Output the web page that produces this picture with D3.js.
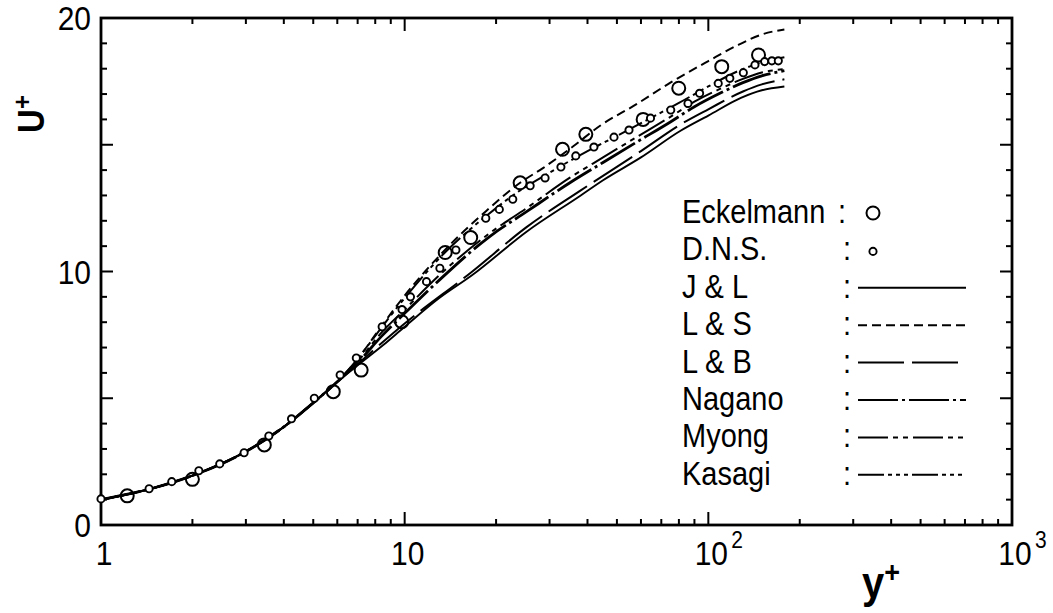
<!DOCTYPE html>
<html>
<head>
<meta charset="utf-8">
<script src="https://cdn.jsdelivr.net/npm/d3@7"></script>
<style>
  html, body { margin: 0; padding: 0; background: #fff; }
  svg { display: block; }
  text { font-family: "Liberation Sans", Arial, Helvetica, sans-serif; fill: #000; }
</style>
</head>
<body>
<svg id="chart" width="1053" height="613"></svg>
<script>
// ---- data: mean velocity U+ against wall distance y+ ----
const eckelmann = [
  [1.22, 1.15], [2.0, 1.8], [3.45, 3.16], [5.82, 5.26], [7.19, 6.11], [9.78, 8.02],
  [13.6, 10.75], [16.5, 11.34], [24.0, 13.5], [33.1, 14.82], [39.5, 15.41], [61, 16.0],
  [79.9, 17.23], [110.7, 18.08], [146.3, 18.54]
];
const dns = [
  [1.0, 1.03], [1.44, 1.43], [1.71, 1.71], [2.10, 2.14], [2.46, 2.41], [2.96, 2.85],
  [3.57, 3.51], [4.24, 4.19], [5.04, 5.0], [6.13, 5.92], [6.93, 6.59], [8.43, 7.82],
  [9.8, 8.5], [10.45, 9.0], [11.8, 9.6], [13.06, 10.13], [14.75, 10.85], [18.5, 12.1],
  [20.5, 12.45], [22.7, 12.85], [25.9, 13.38], [29.0, 13.69], [32.7, 14.12], [36.6, 14.56],
  [42, 14.91], [48.9, 15.3], [54.8, 15.58], [64.5, 16.05], [75.2, 16.37], [85.7, 16.63],
  [93.6, 17.03], [107.8, 17.42], [117.7, 17.62], [130.4, 17.84], [142.4, 18.15],
  [153.2, 18.28], [161.9, 18.31], [170, 18.31]
];

const jlModel = [
  [1, 1.0], [1.5, 1.47], [2, 1.95], [3, 2.9], [4, 3.87], [5, 4.82], [6, 5.65],
  [7, 6.3], [8.5, 7.1], [10, 7.82], [13, 8.95], [16.7, 9.86], [25.2, 11.57], [38, 13.0],
  [45, 13.6], [60, 14.5], [81, 15.55], [100, 16.15], [128, 16.85], [150, 17.15], [178, 17.3]
];
const lsModel = [
  [1, 1.0], [1.5, 1.47], [2, 1.95], [3, 2.9], [4, 3.87], [5, 4.82], [6, 5.65],
  [7, 6.55], [8.4, 7.85], [10, 9.05], [13.7, 10.9], [18.6, 12.4], [24, 13.5], [28.7, 14.1],
  [36, 14.95], [44, 15.75], [58, 16.6], [75, 17.45], [100, 18.3], [126, 18.95], [150, 19.35],
  [178, 19.55]
];
const lbModel = [
  [1, 1.0], [1.5, 1.47], [2, 1.95], [3, 2.9], [4, 3.87], [5, 4.82], [6, 5.65],
  [7, 6.35], [10, 7.95], [16.7, 10.0], [25.2, 11.75], [38, 13.2], [60, 14.75], [81, 15.8],
  [100, 16.4], [130, 17.1], [150, 17.38], [178, 17.58]
];
const naganoModel = [
  [1, 1.0], [1.5, 1.47], [2, 1.95], [3, 2.9], [4, 3.87], [5, 4.82], [6, 5.65],
  [7, 6.4], [8.4, 7.45], [10, 8.35], [13, 9.66], [19, 11.37], [25.2, 12.36], [35, 13.5],
  [45, 14.3], [58, 15.1], [75, 15.9], [90, 16.5], [110, 17.05], [130, 17.45], [150, 17.72],
  [178, 17.92]
];
const myongModel = [
  [1, 1.0], [1.5, 1.47], [2, 1.95], [3, 2.9], [4, 3.87], [5, 4.82], [6, 5.65],
  [7, 6.45], [8.4, 7.6], [10, 8.5], [13, 9.85], [19, 11.5], [25.2, 12.5], [35, 13.7],
  [45, 14.5], [58, 15.3], [75, 16.1], [90, 16.7], [110, 17.22], [130, 17.6], [150, 17.85],
  [178, 17.98]
];
const kasagiModel = [
  [1, 1.0], [1.5, 1.47], [2, 1.95], [3, 2.9], [4, 3.87], [5, 4.82], [6, 5.65],
  [7, 6.55], [8.4, 7.8], [10, 8.95], [13.7, 10.8], [18.6, 12.2], [24, 13.2], [30, 13.9],
  [40, 14.75], [50, 15.35], [60, 15.85], [80, 16.65], [100, 17.3], [125, 17.9], [150, 18.25],
  [178, 18.45]
];

const legendNames = ["Eckelmann", "D.N.S.", "J & L", "L & S", "L & B", "Nagano", "Myong", "Kasagi"];
const yTickLabelValues = [0, 10, 20];
const xTickLabelValues = [1, 10, 100, 1000];
const xTickLabels = ["1", "10", "10^2", "10^3"];

// ---- layout ----
const svg = d3.select("#chart");
const x = d3.scaleLog().domain([1, 1000]).range([101, 1012]);
const y = d3.scaleLinear().domain([0, 20]).range([525, 18]);

function txt(g, px, py, str, size, anchor, bold, sy) {
  return g.append("text")
    .attr("transform", `translate(${px},${py}) scale(1,${sy || 1.12})`)
    .attr("font-size", size)
    .attr("text-anchor", anchor || "start")
    .attr("font-weight", bold ? "bold" : "normal")
    .text(str);
}

// frame
const frame = svg.append("g");
frame.append("rect")
  .attr("x", x(1)).attr("y", y(20))
  .attr("width", x(1000) - x(1)).attr("height", y(0) - y(20))
  .attr("fill", "none").attr("stroke", "#000").attr("stroke-width", 2.8);

// x ticks (bottom and top, pointing inward)
const xTicks = x.ticks().filter(v => v > 1 && v < 1000);
const isDecade = v => Math.abs(Math.log10(v) - Math.round(Math.log10(v))) < 1e-9;
frame.selectAll("line.xb").data(xTicks).join("line")
  .attr("x1", d => x(d)).attr("x2", d => x(d))
  .attr("y1", y(0)).attr("y2", d => y(0) - (isDecade(d) ? 13 : 6))
  .attr("stroke", "#000").attr("stroke-width", 2);
frame.selectAll("line.xt").data(xTicks).join("line")
  .attr("x1", d => x(d)).attr("x2", d => x(d))
  .attr("y1", y(20)).attr("y2", d => y(20) + (isDecade(d) ? 13 : 6))
  .attr("stroke", "#000").attr("stroke-width", 2);

// y ticks (left and right, pointing inward)
const yTicks = d3.range(1, 20);
frame.selectAll("line.yl").data(yTicks).join("line")
  .attr("y1", d => y(d)).attr("y2", d => y(d))
  .attr("x1", x(1)).attr("x2", d => x(1) + (d % 5 === 0 ? 12 : 6))
  .attr("stroke", "#000").attr("stroke-width", 2);
frame.selectAll("line.yr").data(yTicks).join("line")
  .attr("y1", d => y(d)).attr("y2", d => y(d))
  .attr("x1", x(1000)).attr("x2", d => x(1000) - (d % 5 === 0 ? 12 : 6))
  .attr("stroke", "#000").attr("stroke-width", 2);

// tick labels
const labels = svg.append("g");
yTickLabelValues.forEach(v => txt(labels, 91, y(v) + 12, String(v), 30, "end"));
xTickLabelValues.forEach((v, i) => {
  const parts = xTickLabels[i].split("^");
  const cx = x(v) + 3;
  txt(labels, cx, 565, parts[0], 30, "middle");
  if (parts[1]) txt(labels, cx + 20, 548, parts[1], 21, "start");
});

// axis titles
const ut = svg.append("text")
  .attr("transform", "translate(44,114) rotate(-90) scale(1,1.1)")
  .attr("font-size", 33).attr("font-weight", "bold").attr("text-anchor", "middle");
ut.append("tspan").text("U");
ut.append("tspan").attr("font-size", 24).attr("dy", -12).text("+");

const yt = svg.append("text")
  .attr("transform", "translate(862,598) scale(1,1.1)")
  .attr("font-size", 40).attr("font-weight", "bold");
yt.append("tspan").text("y");
yt.append("tspan").attr("font-size", 27).attr("dy", -15).text("+");

// model curves
const models = [
  { data: jlModel,     dash: null,                     w: 1.9 },
  { data: lsModel,     dash: "9,5",                    w: 2.0 },
  { data: lbModel,     dash: "46,8",                   w: 2.0 },
  { data: naganoModel, dash: "40,4,3,4",               w: 2.8 },
  { data: myongModel,  dash: "30,5,5,5,5,5",           w: 2.0 },
  { data: kasagiModel, dash: "26,4,4,4,4,4,4,4",       w: 2.0 }
];
const line = d3.line().x(d => x(d[0])).y(d => y(d[1])).curve(d3.curveMonotoneX);
const curves = svg.append("g");
models.forEach(m => {
  curves.append("path")
    .attr("d", line(m.data))
    .attr("fill", "none").attr("stroke", "#000")
    .attr("stroke-width", m.w)
    .attr("stroke-linejoin", "round")
    .attr("stroke-dasharray", m.dash);
});

// measured / simulated points
const pts = svg.append("g");
pts.selectAll("circle.eck").data(eckelmann).join("circle")
  .attr("cx", d => x(d[0])).attr("cy", d => y(d[1])).attr("r", 6.5)
  .attr("fill", "none").attr("stroke", "#000").attr("stroke-width", 2);
pts.selectAll("circle.dns").data(dns).join("circle")
  .attr("cx", d => x(d[0])).attr("cy", d => y(d[1])).attr("r", 3.6)
  .attr("fill", "#fff").attr("stroke", "#000").attr("stroke-width", 1.9);

// legend
const lg = svg.append("g");
const rowBase = i => 223 + i * 37.4;
legendNames.forEach((name, i) => {
  txt(lg, 682, rowBase(i), name, 29, "start");
  const colonX = i === 0 ? 838 : 843;
  txt(lg, colonX, rowBase(i), ":", 29, "start");
});
lg.append("circle").attr("cx", 873).attr("cy", rowBase(0) - 10).attr("r", 6.5)
  .attr("fill", "none").attr("stroke", "#000").attr("stroke-width", 2);
lg.append("circle").attr("cx", 873).attr("cy", rowBase(1) - 9).attr("r", 3.6)
  .attr("fill", "none").attr("stroke", "#000").attr("stroke-width", 1.9);
models.forEach((m, i) => {
  const ly = rowBase(i + 2) - 10;
  lg.append("line")
    .attr("x1", 858).attr("x2", 966).attr("y1", ly).attr("y2", ly)
    .attr("stroke", "#000").attr("stroke-width", 2)
    .attr("stroke-dasharray", m.dash);
});
</script>
</body>
</html>
